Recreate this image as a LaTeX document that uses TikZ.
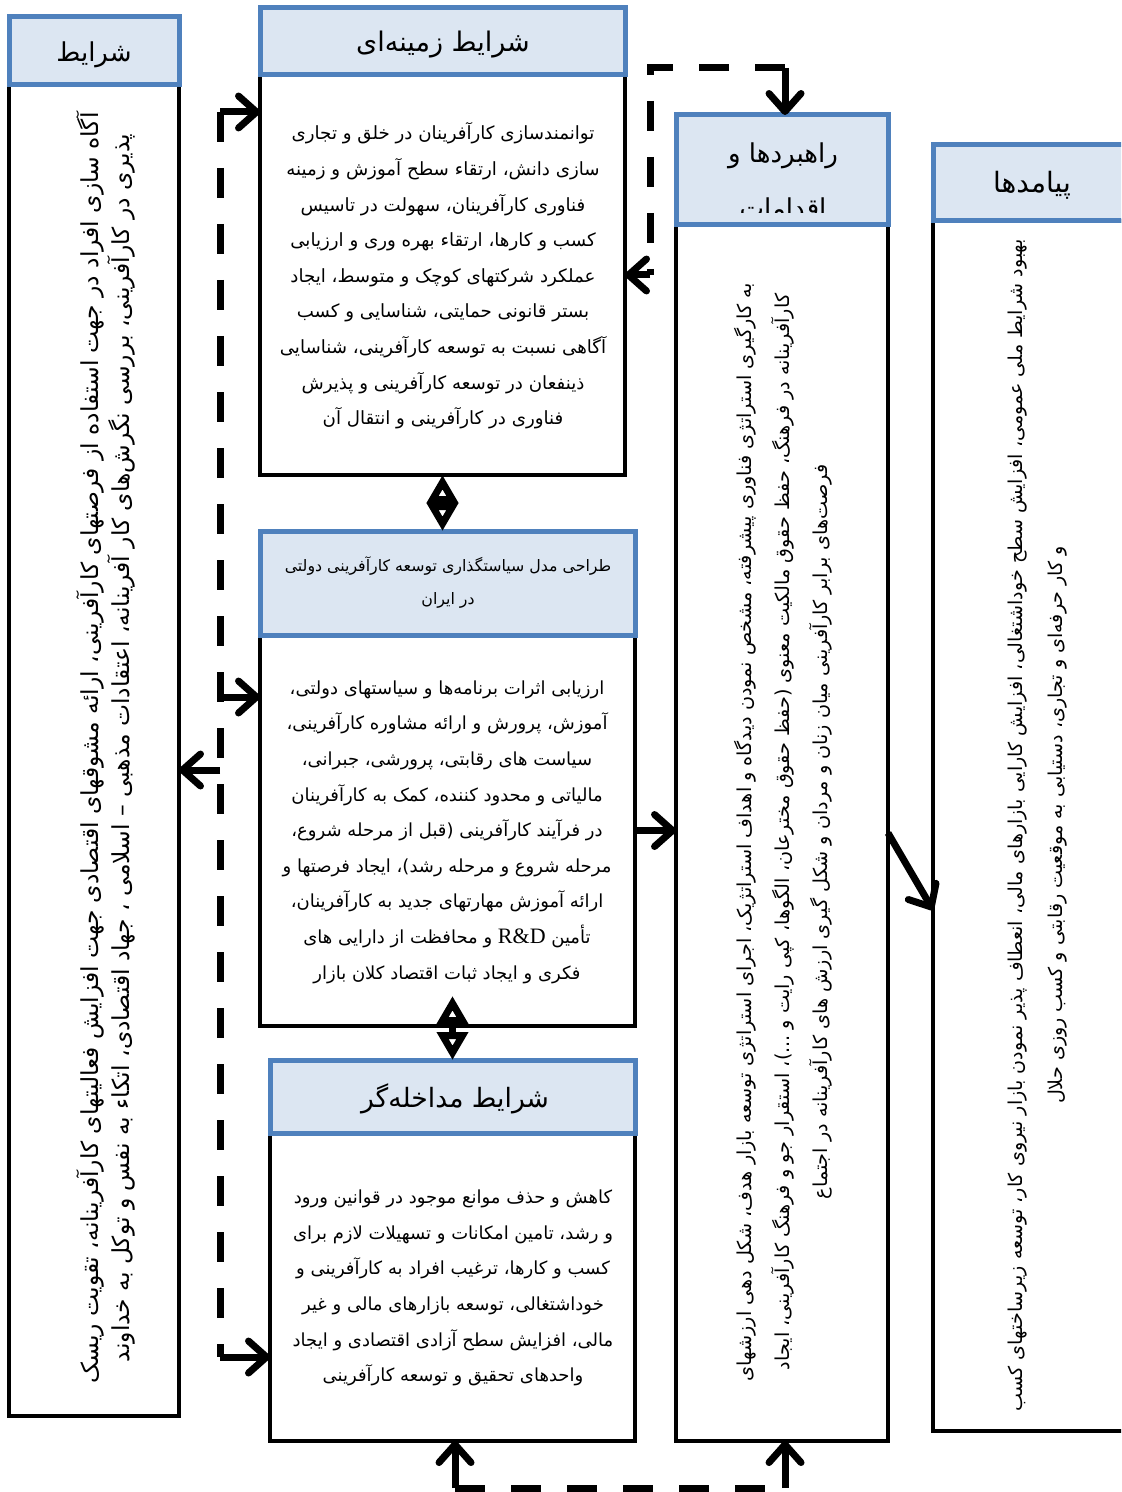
\documentclass[tikz,border=0pt]{standalone}
\usepackage{fontspec}
\TeXXeTstate=1
\newfontfamily\ar[Script=Arabic]{DejaVu Sans}
\newfontfamily\lat{Liberation Serif}
\usetikzlibrary{arrows.meta}
\definecolor{hfill}{HTML}{DCE6F2}
\definecolor{hblue}{HTML}{4F81BD}
\newcommand{\RL}[1]{\beginR #1\endR}
\tikzset{
  hdr/.style={draw=hblue, fill=hfill, line width=2.5pt, anchor=north west, inner sep=0pt, outer sep=0pt},
  bodybox/.style={draw=black, line width=2pt, anchor=north west, inner sep=0pt, outer sep=0pt},
  txt/.style={align=center, inner sep=0pt},
  dl/.style={line width=3.5pt, dash pattern=on 15pt off 13pt},
  chev/.style={line width=3.5pt, -{Straight Barb[length=9pt,width=16pt,line cap=round,line join=round]}},
  dbl/.style={line width=3.5pt, {Triangle[open,fill=white,length=14pt,width=15pt]}-{Triangle[open,fill=white,length=14pt,width=15pt]}},
}
\begin{document}
\begin{tikzpicture}[x=0.5pt,y=-0.5pt]
\useasboundingbox (0,0) rectangle (1121,1492);
\clip (0,0) rectangle (1121,1492);
% bodies
\node[bodybox, minimum width=85pt, minimum height=665.5pt] (b1) at (9,85) {};
\node[bodybox, minimum width=182.5pt, minimum height=200pt] (b2) at (260,75) {};
\node[bodybox, minimum width=187.5pt, minimum height=195.5pt] (b3) at (260,635) {};
\node[bodybox, minimum width=182.5pt, minimum height=154pt] (b4) at (270,1133) {};
\node[bodybox, minimum width=106pt, minimum height=608pt] (b5) at (676,225) {};
\node[bodybox, minimum width=100pt, minimum height=605pt] (b6) at (933,221) {};
% headers
\node[hdr, minimum width=85pt, minimum height=34pt] (h1) at (9,17) {};
\node[hdr, minimum width=182.5pt, minimum height=33.5pt] (h2) at (260,8) {};
\node[hdr, minimum width=187.5pt, minimum height=52pt] (h3) at (260,531) {};
\node[hdr, minimum width=182.5pt, minimum height=36.5pt] (h4) at (270,1060) {};
\node[hdr, minimum width=106pt, minimum height=55pt] (h5) at (676,115) {};
\node[hdr, minimum width=100pt, minimum height=38pt] (h6) at (933,145) {};
% header texts
\node[txt, font=\ar\fontsize{13}{16}\selectfont] (th1) at (94,55) {\RL{شرایط}};
\node[txt, font=\ar\fontsize{13.5}{16}\selectfont] (th2) at (443,45) {\RL{شرایط زمینه‌ای}};
\node[txt, font=\ar\fontsize{7.9}{16.5}\selectfont] (th3) at (448,583) {\RL{طراحی مدل سیاستگذاری توسعه کارآفرینی دولتی}\\\RL{در ایران}};
\node[txt, font=\ar\fontsize{13.3}{17}\selectfont] (th4) at (455,1099) {\RL{شرایط مداخله‌گر}};
\begin{scope}
\clip (676,115) rectangle (888,213);
\node[txt, font=\ar\fontsize{13}{27.5}\selectfont, anchor=north] (th5) at (783,142) {\RL{راهبردها و}\\\RL{اقدامات}};
\end{scope}
\node[txt, font=\ar\fontsize{14}{16}\selectfont] (th6) at (1032,185) {\RL{پیامدها}};
% body texts
\node[txt, font=\ar\fontsize{9.1}{17.8}\selectfont] (t2) at (443,276) {%
\RL{توانمندسازی کارآفرینان در خلق و تجاری}\\
\RL{سازی دانش، ارتقاء سطح آموزش و زمینه}\\
\RL{فناوری کارآفرینان، سهولت در تاسیس}\\
\RL{کسب و کارها، ارتقاء بهره وری و ارزیابی}\\
\RL{عملکرد شرکتهای کوچک و متوسط، ایجاد}\\
\RL{بستر قانونی حمایتی، شناسایی و کسب}\\
\RL{آگاهی نسبت به توسعه کارآفرینی، شناسایی}\\
\RL{ذینفعان در توسعه کارآفرینی و پذیرش}\\
\RL{فناوری در کارآفرینی و انتقال آن}};
\node[txt, font=\ar\fontsize{9}{17.8}\selectfont] (t3) at (447,832) {%
\RL{ارزیابی اثرات برنامه‌ها و سیاستهای دولتی،}\\
\RL{آموزش، پرورش و ارائه مشاوره کارآفرینی،}\\
\RL{سیاست های رقابتی، پرورشی، جبرانی،}\\
\RL{مالیاتی و محدود کننده، کمک به کارآفرینان}\\
\RL{در فرآیند کارآفرینی (قبل از مرحله شروع،}\\
\RL{مرحله شروع و مرحله رشد)، ایجاد فرصتها و}\\
\RL{ارائه آموزش مهارتهای جدید به کارآفرینان،}\\
\RL{تأمین \beginL{\lat\fontsize{11}{17.8}\selectfont R\&D}\endL{} و محافظت از دارایی های}\\
\RL{فکری و ایجاد ثبات اقتصاد کلان بازار}};
\node[txt, font=\ar\fontsize{9}{17.8}\selectfont] (t4) at (453,1288) {%
\RL{کاهش و حذف موانع موجود در قوانین ورود}\\
\RL{و رشد، تامین امکانات و تسهیلات لازم برای}\\
\RL{کسب و کارها، ترغیب افراد به کارآفرینی و}\\
\RL{خوداشتغالی، توسعه بازارهای مالی و غیر}\\
\RL{مالی، افزایش سطح آزادی اقتصادی و ایجاد}\\
\RL{واحدهای تحقیق و توسعه کارآفرینی}};
% vertical texts
\node[txt, rotate=90, font=\ar\fontsize{11.7}{15.5}\selectfont] (t1) at (106,748) {%
\RL{آگاه سازی افراد در جهت استفاده از فرصتهای کارآفرینی، ارائه مشوقهای اقتصادی جهت افزایش فعالیتهای کارآفرینانه، تقویت ریسک}\\
\RL{پذیری در کارآفرینی، بررسی نگرش‌های کار آفرینانه، اعتقادات مذهبی – اسلامی ، جهاد اقتصادی، اتکاء به نفس و توکل به خداوند}};
\node[txt, rotate=90, font=\ar\fontsize{9.6}{19}\selectfont] (t5) at (783,832) {%
\RL{به کارگیری استراتژی فناوری پیشرفته، مشخص نمودن دیدگاه و اهداف استراتژیک، اجرای استراتژی توسعه بازار هدف، شکل دهی ارزشهای}\\
\RL{کارآفرینانه در فرهنگ، حفظ حقوق مالکیت معنوی (حفظ حقوق مخترعان، الگوها، کپی رایت و ...)، استقرار جو و فرهنگ کارآفرینی، ایجاد}\\
\RL{فرصت‌های برابر کارآفرینی میان زنان و مردان و شکل گیری ارزش های کارآفرینانه در اجتماع}};
\node[txt, rotate=90, font=\ar\fontsize{9.55}{20}\selectfont] (t6) at (1038,825) {%
\RL{بهبود شرایط ملی عمومی، افزایش سطح خوداشتغالی، افزایش کارایی بازارهای مالی، انعطاف پذیر نمودن بازار نیروی کار، توسعه زیرساختهای کسب}\\
\RL{و کار حرفه‌ای و تجاری، دستیابی به موقعیت رقابتی و کسب روزی حلال}};
% double arrows
\draw[dbl] (b2.south) -- (b2.south |- h3.north);
\draw[dbl, shorten <=-15pt] (h4.north |- b3.south) -- (h4.north);
% solid arrows
\draw[chev] (b3.east) -- (b3.east -| b5.west);
\coordinate (p6) at (933,910);
\draw[chev] (b5.east) -- (p6);
% left dashed spine
\coordinate (lt) at (220,112);
\coordinate (lb) at (220,1357);
\coordinate (lm1) at (220,697);
\coordinate (lm2) at (220,770);
\draw[dl] (lt) -- (lb);
\draw[chev] (lt) -- (lt -| b2.west);
\draw[chev] (lm1) -- (lm1 -| b3.west);
\draw[chev] (lm2) -- (lm2 -| b1.east);
\draw[chev] (lb) -- (lb -| b4.west);
% top right dashed
\coordinate (ta) at (650,68);
\coordinate (tb) at (785,68);
\coordinate (tc) at (650,275);
\draw[dl] (tb) -- (ta) -- (tc);
\draw[chev] (tc) -- (tc -| b2.east);
\draw[chev] (tb) -- (tb |- h5.north);
% bottom dashed
\coordinate (bl) at (455,1488);
\coordinate (br) at (785,1488);
\draw[dl] (bl) -- (br);
\draw[chev] (bl) -- (bl |- b4.south);
\draw[chev] (br) -- (br |- b5.south);
\end{tikzpicture}
\end{document}
